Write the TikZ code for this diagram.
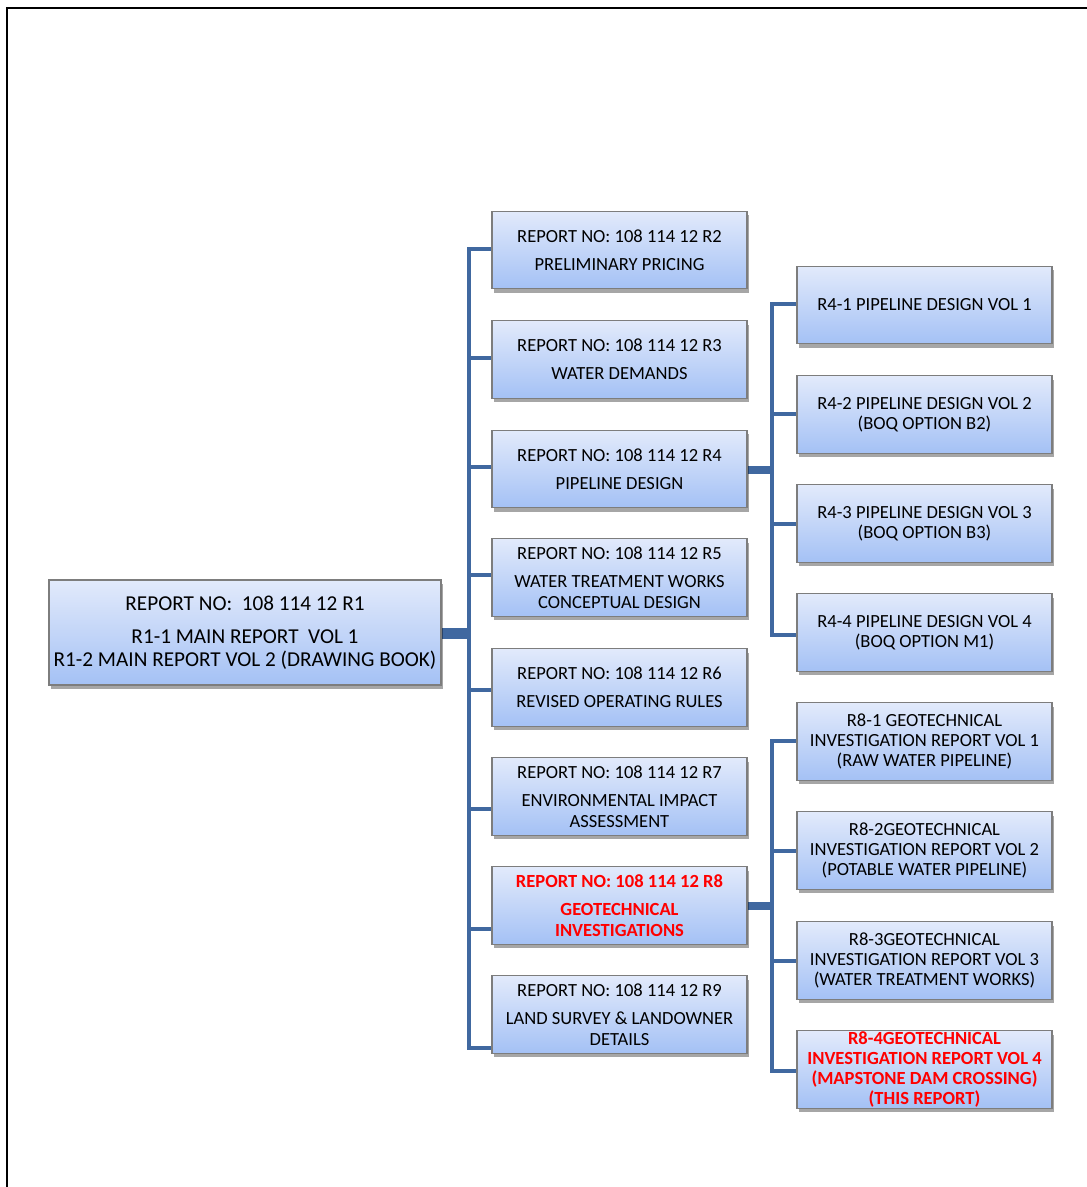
\documentclass[tikz,border=0pt]{standalone}
\usepackage{fontspec}
\setmainfont{Carlito}
\usetikzlibrary{shadows,backgrounds}
\definecolor{linkcol}{RGB}{64,104,160}
\definecolor{boxtop}{RGB}{226,234,251}
\definecolor{boxbot}{RGB}{164,193,245}
\definecolor{boxline}{RGB}{125,125,125}
\tikzset{
  report/.style={draw=boxline,line width=0.7bp,top color=boxtop,bottom color=boxbot,
    inner sep=0pt,outer sep=0pt,align=center,minimum width=127.5bp,minimum height=38.75bp,
    font=\fontsize{9.3}{10.2}\selectfont,
    drop shadow={shadow xshift=1.2bp,shadow yshift=-2bp,opacity=0.35,fill=black}},
  mainreport/.style={report,minimum width=196bp,minimum height=52.5bp,font=\fontsize{10.65}{11.5}\selectfont},
  current/.style={text=red,font=\fontsize{9.3}{10.2}\selectfont\bfseries},
  link/.style={draw=linkcol,line width=2bp,line cap=rect},
  trunk/.style={link,line width=4bp}
}
\begin{document}
\begin{tikzpicture}
  \useasboundingbox (0,0) rectangle (543.5bp,593.5bp);
  \draw [line width=1bp] (3.5bp,0) -- (3.5bp,589.25bp) -- (543.5bp,589.25bp);
  %%
  \node (R1) at (122.5bp,277.25bp) [mainreport] {REPORT NO:\ \ 108 114 12 R1\\[5pt]R1-1 MAIN REPORT\ \ VOL 1\\R1-2 MAIN REPORT VOL 2 (DRAWING BOOK)};
  \node (R2) at (309.75bp,468.5bp) [report] {REPORT NO: 108 114 12 R2\\[4pt]PRELIMINARY PRICING};
  \node (R3) at (309.75bp,413.75bp) [report] {REPORT NO: 108 114 12 R3\\[4pt]WATER DEMANDS};
  \node (R4) at (309.75bp,359bp) [report] {REPORT NO: 108 114 12 R4\\[4pt]PIPELINE DESIGN};
  \node (R5) at (309.75bp,304.75bp) [report] {REPORT NO: 108 114 12 R5\\[4pt]WATER TREATMENT WORKS\\CONCEPTUAL DESIGN};
  \node (R6) at (309.75bp,249.75bp) [report] {REPORT NO: 108 114 12 R6\\[4pt]REVISED OPERATING RULES};
  \node (R7) at (309.75bp,195.25bp) [report] {REPORT NO: 108 114 12 R7\\[4pt]ENVIRONMENTAL IMPACT\\ASSESSMENT};
  \node (R8) at (309.75bp,140.75bp) [report,current] {REPORT NO: 108 114 12 R8\\[4pt]GEOTECHNICAL\\INVESTIGATIONS};
  \node (R9) at (309.75bp,86.25bp) [report] {REPORT NO: 108 114 12 R9\\[4pt]LAND SURVEY \& LANDOWNER\\DETAILS};
  \node (R4-1) at (462.25bp,441bp) [report] {R4-1 PIPELINE DESIGN VOL 1};
  \node (R4-2) at (462.25bp,386.25bp) [report] {R4-2 PIPELINE DESIGN VOL 2\\(BOQ OPTION B2)};
  \node (R4-3) at (462.25bp,331.75bp) [report] {R4-3 PIPELINE DESIGN VOL 3\\(BOQ OPTION B3)};
  \node (R4-4) at (462.25bp,277.25bp) [report] {R4-4 PIPELINE DESIGN VOL 4\\(BOQ OPTION M1)};
  \node (R8-1) at (462.25bp,222.75bp) [report] {R8-1 GEOTECHNICAL\\INVESTIGATION REPORT VOL 1\\(RAW WATER PIPELINE)};
  \node (R8-2) at (462.25bp,168.25bp) [report] {R8-2GEOTECHNICAL\\INVESTIGATION REPORT VOL 2\\(POTABLE WATER PIPELINE)};
  \node (R8-3) at (462.25bp,113.25bp) [report] {R8-3GEOTECHNICAL\\INVESTIGATION REPORT VOL 3\\(WATER TREATMENT WORKS)};
  \node (R8-4) at (462.25bp,58.75bp) [report,current] {R8-4GEOTECHNICAL\\INVESTIGATION REPORT VOL 4\\(MAPSTONE DAM CROSSING)\\(THIS REPORT)};
  %
  \coordinate (J1) at (234.5bp,276.5bp);
  \coordinate (J2) at (234.5bp,468.75bp);
  \coordinate (J3) at (234.5bp,414.5bp);
  \coordinate (J4) at (234.5bp,360bp);
  \coordinate (J5) at (234.5bp,305.75bp);
  \coordinate (J6) at (234.5bp,248.5bp);
  \coordinate (J7) at (234.5bp,189bp);
  \coordinate (J8) at (234.5bp,129bp);
  \coordinate (J9) at (234.5bp,69.5bp);
  \coordinate (K0) at (385.75bp,358.5bp);
  \coordinate (K1) at (385.75bp,441.25bp);
  \coordinate (K2) at (385.75bp,386.5bp);
  \coordinate (K3) at (385.75bp,331.5bp);
  \coordinate (K4) at (385.75bp,276bp);
  \coordinate (L0) at (385.75bp,140.25bp);
  \coordinate (L1) at (385.75bp,223bp);
  \coordinate (L2) at (385.75bp,168bp);
  \coordinate (L3) at (385.75bp,113bp);
  \coordinate (L4) at (385.75bp,58bp);
  \begin{scope}[on background layer]
  \draw [trunk,line width=5.5bp,line cap=butt] (R1.east |- J1) -- (J1);
  \draw [link] (J2) -- (J9);
  \draw [link] (J2) -- (R2.west |- J2);
  \draw [link] (J3) -- (R3.west |- J3);
  \draw [link] (J4) -- (R4.west |- J4);
  \draw [link] (J5) -- (R5.west |- J5);
  \draw [link] (J6) -- (R6.west |- J6);
  \draw [link] (J7) -- (R7.west |- J7);
  \draw [link] (J8) -- (R8.west |- J8);
  \draw [link] (J9) -- (R9.west |- J9);
  \draw [trunk,line cap=butt] (R4.east |- K0) -- (K0);
  \draw [link] (K1) -- (K4);
  \draw [link] (K1) -- (R4-1.west |- K1);
  \draw [link] (K2) -- (R4-2.west |- K2);
  \draw [link] (K3) -- (R4-3.west |- K3);
  \draw [link] (K4) -- (R4-4.west |- K4);
  \draw [trunk,line cap=butt] (R8.east |- L0) -- (L0);
  \draw [link] (L1) -- (L4);
  \draw [link] (L1) -- (R8-1.west |- L1);
  \draw [link] (L2) -- (R8-2.west |- L2);
  \draw [link] (L3) -- (R8-3.west |- L3);
  \draw [link] (L4) -- (R8-4.west |- L4);
  \end{scope}
  %
\end{tikzpicture}
\end{document}
